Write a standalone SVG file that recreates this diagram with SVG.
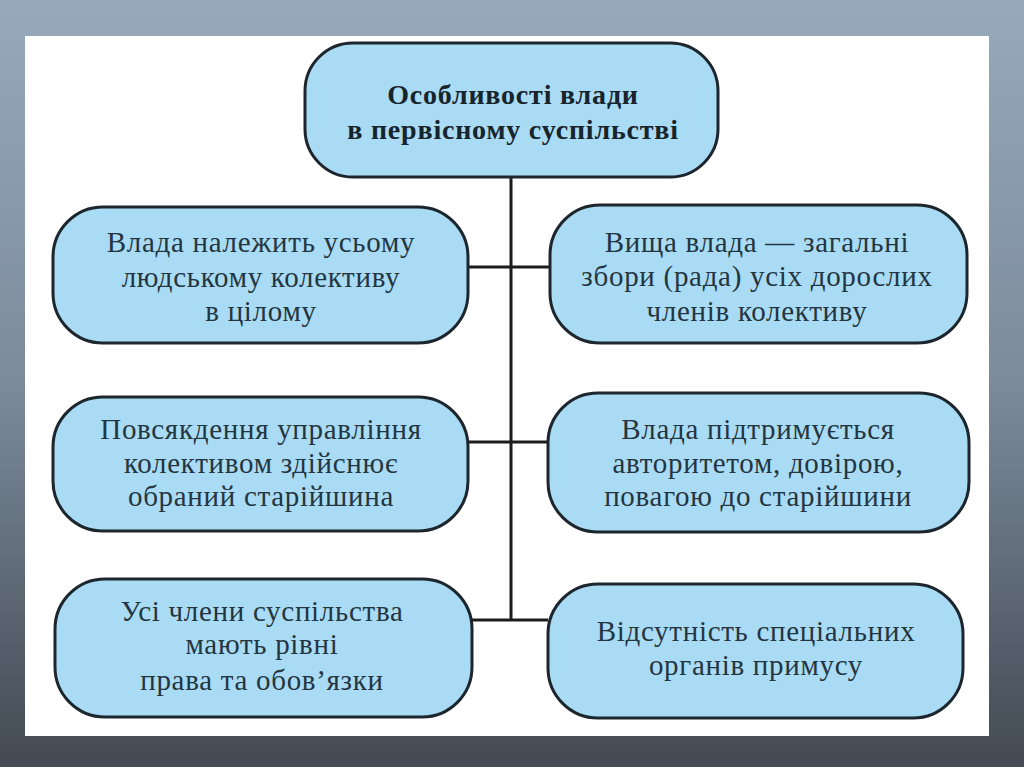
<svg xmlns="http://www.w3.org/2000/svg" width="1024" height="767" viewBox="0 0 1024 767">
<defs>
<linearGradient id="bg" x1="0" y1="0" x2="0" y2="1">
<stop offset="0" stop-color="#97a9bc"/>
<stop offset="0.5" stop-color="#7b8b9c"/>
<stop offset="1" stop-color="#434a53"/>
</linearGradient>
</defs>
<style>
.box{fill:#a9dbf5;stroke:#1c262c;stroke-width:3}
.t{font-family:"Liberation Serif","DejaVu Serif",serif;font-size:29px;letter-spacing:0.7px;fill:#24353f;text-anchor:middle}
.b{font-weight:bold;font-size:28px;letter-spacing:0.8px;fill:#17242c}
.c{stroke:#1c1c1c;stroke-width:3;fill:none}
</style>
<rect x="0" y="0" width="1024" height="767" fill="url(#bg)"/>
<rect x="25" y="36" width="964" height="700" fill="#ffffff"/>
<g id="connectors">
<line class="c" x1="511" y1="177" x2="511" y2="620"/>
<line class="c" x1="468" y1="267" x2="550" y2="267"/>
<line class="c" x1="468" y1="442" x2="550" y2="442"/>
<line class="c" x1="470" y1="620" x2="548" y2="620"/>
</g>
<g id="title">
<rect class="box" x="305" y="43" width="413" height="134" rx="48"/>
<text class="t b" x="513" y="104">Особливості влади</text>
<text class="t b" x="513" y="139">в первісному суспільстві</text>
</g>
<g id="left1">
<rect class="box" x="53" y="207" width="415" height="136" rx="50"/>
<text class="t" x="261" y="252">Влада належить усьому</text>
<text class="t" x="261" y="287">людському колективу</text>
<text class="t" x="261" y="321">в цілому</text>
</g>
<g id="right1">
<rect class="box" x="550" y="205" width="417" height="138" rx="50"/>
<text class="t" x="757" y="252">Вища влада — загальні</text>
<text class="t" x="757" y="286">збори (рада) усіх дорослих</text>
<text class="t" x="757" y="321">членів колективу</text>
</g>
<g id="left2">
<rect class="box" x="53" y="397" width="415" height="134" rx="50"/>
<text class="t" x="261" y="439">Повсякдення управління</text>
<text class="t" x="261" y="473">колективом здійснює</text>
<text class="t" x="261" y="506">обраний старійшина</text>
</g>
<g id="right2">
<rect class="box" x="548" y="393" width="421" height="139" rx="50"/>
<text class="t" x="758" y="439">Влада підтримується</text>
<text class="t" x="758" y="473">авторитетом, довірою,</text>
<text class="t" x="758" y="506">повагою до старійшини</text>
</g>
<g id="left3">
<rect class="box" x="55" y="579" width="417" height="138" rx="50"/>
<text class="t" x="262" y="621">Усі члени суспільства</text>
<text class="t" x="262" y="654">мають рівні</text>
<text class="t" x="262" y="690">права та обов’язки</text>
</g>
<g id="right3">
<rect class="box" x="548" y="584" width="415" height="134" rx="50"/>
<text class="t" x="756" y="641">Відсутність спеціальних</text>
<text class="t" x="756" y="675">органів примусу</text>
</g>
</svg>
